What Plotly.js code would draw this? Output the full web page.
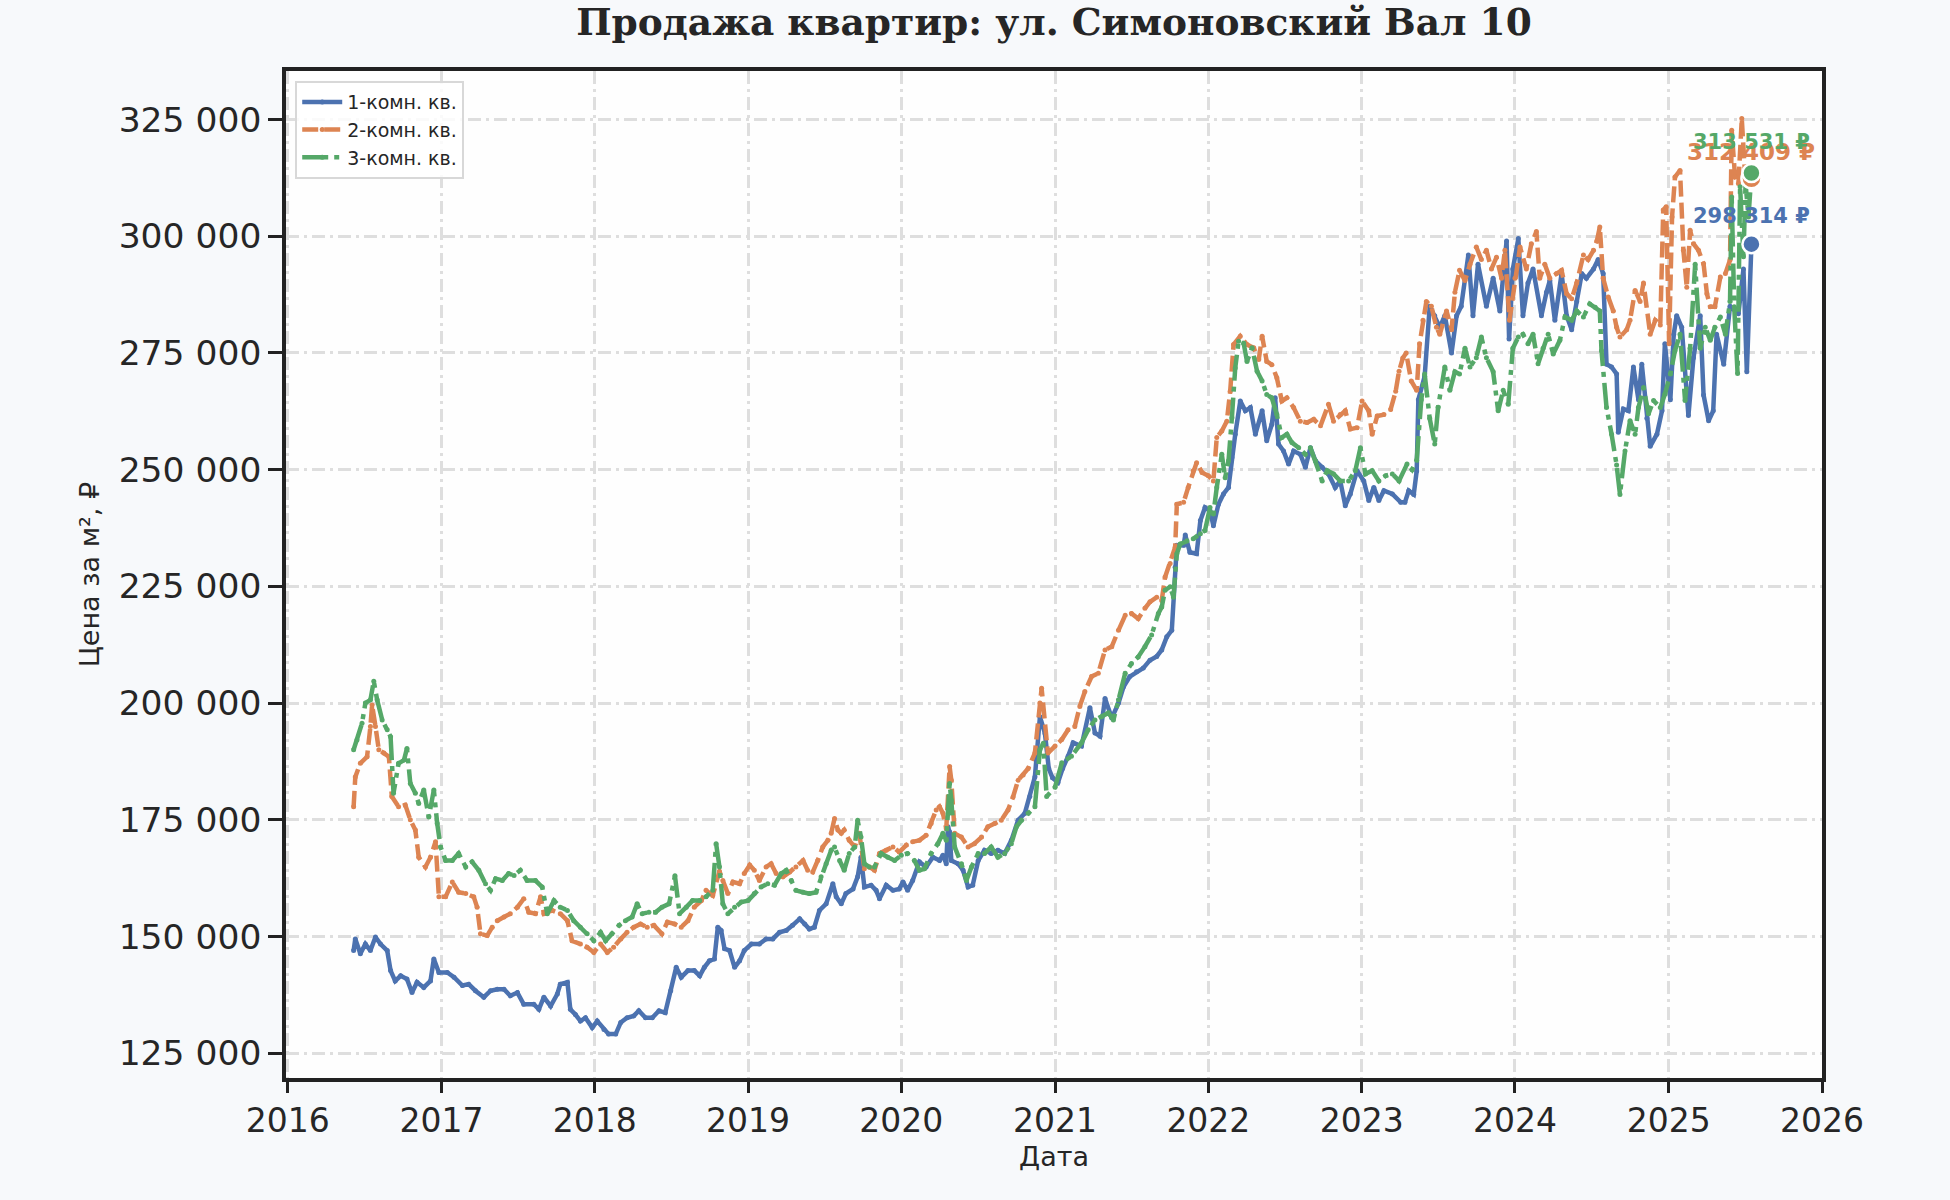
<!DOCTYPE html>
<html><head><meta charset="utf-8">
<script src="https://cdn.plot.ly/plotly-3.0.1.min.js"></script>
<style>html,body{margin:0;padding:0;background:#f7f9fb;}#chart{width:1950px;height:1200px;}</style>
</head><body><div id="chart"></div>
<script>
const titleText = 'Продажа квартир: ул. Симоновский Вал 10';
const seriesNames = ['1-комн. кв.', '2-комн. кв.', '3-комн. кв.'];

// 1-room: decimal years / price per m²
const t1 = [2016.43,2016.441,2016.474,2016.507,2016.539,2016.572,2016.604,2016.648,2016.670,2016.702,2016.735,2016.778,2016.811,2016.843,2016.887,2016.930,2016.952,2016.985,2017.039,2017.083,2017.137,2017.180,2017.224,2017.278,2017.322,2017.365,2017.409,2017.452,2017.496,2017.539,2017.604,2017.637,2017.670,2017.713,2017.757,2017.778,2017.822,2017.843,2017.876,2017.909,2017.941,2017.985,2018.017,2018.061,2018.093,2018.137,2018.170,2018.213,2018.257,2018.289,2018.333,2018.376,2018.420,2018.463,2018.496,2018.533,2018.565,2018.609,2018.652,2018.685,2018.717,2018.750,2018.783,2018.804,2018.826,2018.848,2018.880,2018.913,2018.946,2018.978,2019.022,2019.076,2019.120,2019.163,2019.207,2019.250,2019.293,2019.337,2019.370,2019.402,2019.435,2019.467,2019.511,2019.554,2019.576,2019.609,2019.641,2019.685,2019.717,2019.739,2019.761,2019.804,2019.837,2019.859,2019.902,2019.946,2019.989,2020.011,2020.043,2020.076,2020.120,2020.163,2020.207,2020.250,2020.272,2020.293,2020.304,2020.315,2020.326,2020.370,2020.402,2020.435,2020.467,2020.500,2020.543,2020.587,2020.630,2020.674,2020.717,2020.761,2020.804,2020.837,2020.870,2020.902,2020.935,2020.960,2020.985,2021.020,2021.050,2021.087,2021.120,2021.174,2021.229,2021.261,2021.294,2021.327,2021.370,2021.414,2021.447,2021.490,2021.534,2021.577,2021.621,2021.664,2021.697,2021.730,2021.763,2021.784,2021.795,2021.839,2021.850,2021.882,2021.926,2021.948,2021.980,2022.013,2022.035,2022.068,2022.100,2022.133,2022.155,2022.176,2022.209,2022.242,2022.275,2022.307,2022.351,2022.383,2022.416,2022.438,2022.460,2022.492,2022.525,2022.558,2022.601,2022.634,2022.667,2022.699,2022.743,2022.786,2022.830,2022.863,2022.895,2022.928,2022.972,2023.015,2023.048,2023.081,2023.113,2023.146,2023.200,2023.255,2023.283,2023.309,2023.340,2023.359,2023.370,2023.413,2023.446,2023.478,2023.511,2023.543,2023.587,2023.620,2023.652,2023.696,2023.728,2023.761,2023.815,2023.859,2023.902,2023.946,2023.963,2023.989,2024.022,2024.054,2024.087,2024.120,2024.174,2024.207,2024.228,2024.261,2024.304,2024.337,2024.370,2024.402,2024.435,2024.467,2024.511,2024.543,2024.576,2024.598,2024.630,2024.663,2024.674,2024.707,2024.739,2024.772,2024.804,2024.826,2024.859,2024.880,2024.924,2024.957,2024.978,2025.011,2025.033,2025.054,2025.087,2025.130,2025.163,2025.207,2025.228,2025.261,2025.293,2025.315,2025.359,2025.402,2025.457,2025.489,2025.511,2025.540];
const v1 = [147000,149500,146300,148400,147000,149900,148400,147000,142700,140500,141600,140900,138000,140200,139100,140500,145200,142300,142300,141300,139500,139800,138400,137000,138400,138700,138700,137300,138000,135500,135500,134400,137000,135100,137700,139800,140200,134400,133300,131900,132600,130500,131900,130100,129100,129100,131600,132600,133000,134100,132600,132600,134100,133700,138400,143400,141300,142700,142700,141600,143400,144800,145200,152000,151300,147400,147000,143400,144800,147000,148400,148400,149500,149500,150900,151300,152400,153800,152700,151600,152000,155600,157000,161300,158500,157000,159200,160200,162800,167000,160600,161000,159900,158100,161000,159900,160200,161700,159900,162000,166000,164900,167000,166300,167400,165600,173500,172400,166300,165600,164200,160600,161000,166300,168500,167800,168500,167800,170600,174900,176400,180000,184200,197100,193500,186000,184000,183000,186000,188600,191500,190800,199000,193600,192900,201000,196800,200000,203500,205700,206700,207500,209200,210000,211400,214200,215600,229100,233800,233800,236000,232300,232000,239100,241900,241200,238000,242600,244800,246200,252600,257600,264700,262600,263300,257600,262600,256200,259700,265400,255500,254000,251200,254000,253300,250500,254700,251900,250500,249100,246200,247600,242300,244800,249800,247600,243400,246200,243400,245500,244800,243000,243000,245500,244700,249700,265000,270000,285000,283000,280500,283000,275000,283000,285000,296000,283000,294000,285000,291000,284000,299000,278000,293000,299500,283000,290000,293000,283000,288000,290500,282000,292000,283000,280000,286000,292000,291000,293000,295000,292000,272600,272000,270500,258000,263000,262600,272000,265000,272600,261000,255000,257600,262600,277000,265000,279000,283000,280500,261600,274000,283000,266000,260500,262600,279000,272600,285000,283400,293000,271000,298314];

// 2-room
const t2 = [2016.43,2016.441,2016.474,2016.517,2016.539,2016.550,2016.572,2016.593,2016.626,2016.659,2016.680,2016.724,2016.767,2016.800,2016.833,2016.854,2016.898,2016.930,2016.963,2016.985,2017.028,2017.072,2017.115,2017.159,2017.213,2017.235,2017.257,2017.300,2017.333,2017.365,2017.409,2017.452,2017.496,2017.539,2017.572,2017.615,2017.648,2017.670,2017.724,2017.778,2017.822,2017.854,2017.909,2017.952,2017.996,2018.039,2018.083,2018.126,2018.170,2018.213,2018.257,2018.300,2018.343,2018.387,2018.441,2018.474,2018.522,2018.565,2018.609,2018.652,2018.696,2018.728,2018.772,2018.815,2018.837,2018.870,2018.902,2018.946,2018.978,2019.011,2019.043,2019.076,2019.120,2019.152,2019.185,2019.228,2019.272,2019.315,2019.359,2019.391,2019.424,2019.457,2019.489,2019.522,2019.543,2019.565,2019.587,2019.609,2019.630,2019.663,2019.696,2019.728,2019.761,2019.793,2019.826,2019.859,2019.902,2019.946,2019.989,2020.033,2020.076,2020.120,2020.163,2020.196,2020.228,2020.250,2020.272,2020.293,2020.315,2020.326,2020.348,2020.391,2020.435,2020.478,2020.522,2020.565,2020.609,2020.652,2020.696,2020.728,2020.761,2020.793,2020.826,2020.870,2020.902,2020.913,2020.956,2021.000,2021.044,2021.087,2021.131,2021.163,2021.196,2021.240,2021.283,2021.327,2021.370,2021.414,2021.458,2021.501,2021.545,2021.588,2021.621,2021.664,2021.697,2021.719,2021.752,2021.784,2021.795,2021.839,2021.871,2021.904,2021.926,2021.959,2022.002,2022.035,2022.057,2022.089,2022.122,2022.144,2022.166,2022.209,2022.253,2022.296,2022.329,2022.351,2022.383,2022.416,2022.449,2022.481,2022.514,2022.558,2022.601,2022.645,2022.688,2022.732,2022.786,2022.819,2022.863,2022.895,2022.928,2022.972,2023.004,2023.048,2023.070,2023.102,2023.146,2023.190,2023.222,2023.244,2023.270,2023.293,2023.326,2023.359,2023.380,2023.402,2023.424,2023.457,2023.489,2023.511,2023.554,2023.587,2023.609,2023.641,2023.674,2023.707,2023.750,2023.783,2023.815,2023.848,2023.880,2023.913,2023.935,2023.967,2024.000,2024.033,2024.076,2024.109,2024.141,2024.163,2024.196,2024.228,2024.272,2024.304,2024.337,2024.370,2024.402,2024.446,2024.478,2024.511,2024.533,2024.554,2024.576,2024.609,2024.641,2024.663,2024.685,2024.728,2024.750,2024.783,2024.815,2024.837,2024.880,2024.913,2024.946,2024.967,2024.985,2025.003,2025.022,2025.043,2025.076,2025.098,2025.120,2025.141,2025.163,2025.196,2025.228,2025.250,2025.272,2025.304,2025.337,2025.370,2025.402,2025.413,2025.435,2025.457,2025.478,2025.500,2025.522,2025.540];
const v2 = [177800,184200,187100,188500,195000,199600,195000,190000,189300,188500,180000,177800,178200,175000,172800,167000,164900,167000,170300,158500,158500,161700,159500,159200,158500,156300,150600,150200,152000,153400,154200,154900,156300,158100,155200,154900,158500,154900,155600,154900,153400,149100,148400,147700,146600,148400,146600,147700,149500,150900,152000,152700,152000,152400,150600,153100,152700,152000,153400,156300,157700,159900,158800,164000,162000,159200,161700,161300,163500,165300,164200,162000,164900,165600,163500,162800,163800,164900,166300,164200,163800,166300,169200,170600,172100,175300,172800,172100,172800,170600,169200,172100,164500,164900,164200,167800,168500,169200,168100,169600,170300,170600,171700,174200,177100,177800,176400,173100,186400,183500,172100,171300,169200,169900,171300,173500,174200,174900,177100,179900,183500,184600,186000,189300,200000,203200,189300,190800,192200,194300,195000,199300,202500,205700,206400,211400,212100,215600,218800,219200,218100,220300,221700,222700,222000,227000,229900,233400,242600,243000,246200,249800,251500,249400,248700,247600,256900,258300,260400,266800,276800,278600,276800,276100,273600,278600,273200,272500,269700,264700,265400,263300,260400,260100,260800,259400,264000,260400,261800,262600,258700,259000,264700,262600,257600,261500,261800,262900,266800,271100,273900,275000,269000,267000,277000,282000,286000,285000,280500,279000,284000,280000,288000,292700,290500,294000,297700,295000,297000,293000,295500,291000,297000,282000,291000,297700,293000,298400,301000,291000,294000,291000,292000,292700,287700,286600,290000,296000,295000,297000,299000,302000,291000,287000,284000,280500,278400,280000,282000,288400,286000,290000,279000,282000,281000,305600,306300,277000,304100,312700,314100,297000,289100,301300,298400,297000,294100,287700,284900,284900,291300,292000,294900,322700,312700,311300,325200,312700,312400,312409];

// 3-room
const t3 = [2016.43,2016.452,2016.485,2016.507,2016.539,2016.561,2016.583,2016.615,2016.648,2016.670,2016.691,2016.724,2016.757,2016.778,2016.800,2016.833,2016.854,2016.887,2016.920,2016.952,2016.974,2016.996,2017.028,2017.072,2017.115,2017.159,2017.202,2017.246,2017.289,2017.322,2017.354,2017.398,2017.441,2017.474,2017.517,2017.561,2017.615,2017.659,2017.691,2017.735,2017.778,2017.822,2017.865,2017.909,2017.952,2017.996,2018.039,2018.072,2018.115,2018.159,2018.202,2018.246,2018.278,2018.311,2018.354,2018.398,2018.441,2018.485,2018.525,2018.554,2018.598,2018.641,2018.685,2018.728,2018.772,2018.793,2018.815,2018.837,2018.870,2018.913,2018.957,2019.000,2019.043,2019.087,2019.130,2019.174,2019.217,2019.250,2019.283,2019.315,2019.359,2019.402,2019.446,2019.478,2019.511,2019.543,2019.565,2019.598,2019.630,2019.663,2019.696,2019.717,2019.739,2019.761,2019.793,2019.826,2019.870,2019.913,2019.957,2020.000,2020.043,2020.087,2020.120,2020.152,2020.196,2020.239,2020.272,2020.293,2020.315,2020.326,2020.348,2020.391,2020.424,2020.457,2020.500,2020.543,2020.587,2020.630,2020.674,2020.717,2020.750,2020.783,2020.826,2020.870,2020.902,2020.924,2020.946,2021.000,2021.044,2021.109,2021.174,2021.218,2021.261,2021.305,2021.349,2021.381,2021.414,2021.458,2021.501,2021.545,2021.588,2021.632,2021.675,2021.697,2021.719,2021.752,2021.773,2021.795,2021.817,2021.861,2021.904,2021.948,2021.980,2022.013,2022.035,2022.057,2022.089,2022.111,2022.133,2022.155,2022.176,2022.198,2022.231,2022.253,2022.285,2022.318,2022.351,2022.383,2022.416,2022.449,2022.481,2022.514,2022.547,2022.590,2022.634,2022.667,2022.699,2022.743,2022.776,2022.819,2022.863,2022.917,2022.961,2022.993,2023.026,2023.070,2023.113,2023.157,2023.200,2023.244,2023.298,2023.330,2023.359,2023.391,2023.413,2023.446,2023.478,2023.500,2023.543,2023.576,2023.609,2023.641,2023.674,2023.707,2023.750,2023.783,2023.815,2023.859,2023.891,2023.924,2023.957,2023.989,2024.022,2024.054,2024.087,2024.120,2024.152,2024.185,2024.217,2024.250,2024.293,2024.326,2024.370,2024.402,2024.446,2024.489,2024.522,2024.554,2024.565,2024.598,2024.630,2024.663,2024.685,2024.717,2024.750,2024.783,2024.804,2024.837,2024.870,2024.902,2024.946,2024.978,2025.011,2025.043,2025.076,2025.109,2025.141,2025.174,2025.207,2025.239,2025.272,2025.304,2025.337,2025.370,2025.402,2025.413,2025.430,2025.450,2025.467,2025.489,2025.504,2025.522,2025.540];
const v3 = [190000,192100,195700,200000,200700,204700,200700,196400,194300,192800,180700,187100,187800,190300,182800,180700,178500,181400,175600,181400,174200,169200,166300,166300,167800,164900,166000,164200,161300,159900,162400,162000,163500,163100,164200,162000,162000,160600,154900,157700,156300,155600,153400,152000,150600,149100,150900,149100,150600,152400,153400,154200,157000,154900,155200,155200,156300,157000,163000,154900,156300,157700,157700,158500,159900,169900,164900,157000,154900,156300,157400,157700,159200,160600,161300,161000,163500,164200,162000,159900,159500,159200,159500,162800,165600,168500,169200,166300,164200,167800,169200,174900,171300,165600,164900,164900,167800,167000,166300,167400,167800,166300,164200,164500,167800,169900,172100,170600,182800,179200,169200,165600,162000,164900,167800,167800,169200,167000,167800,169900,173500,174900,176400,177800,190000,191400,180000,182000,187200,188600,191500,194300,196400,197100,197900,196400,200700,206400,208500,209900,212100,214600,219200,220600,224200,224900,222700,232000,234100,234800,235200,236300,237000,241900,240500,246200,253300,248300,251900,261100,271800,277500,277100,273200,276100,271100,269000,266100,265400,261800,256900,257600,255800,254700,253300,254700,251900,247600,249800,249100,247600,247600,249800,254700,249100,249800,247600,248700,249100,247600,251200,250000,252000,265000,270500,261000,255500,263400,272000,267000,271000,270500,276000,272000,274000,278400,274000,271000,262600,267000,264000,276000,278400,279000,277000,279000,272700,276000,279000,274800,277700,282700,282000,284000,282700,285500,284800,284000,275500,263300,257600,251000,244700,254000,260500,257600,263300,267600,262000,264800,263300,266200,270500,275500,279000,264800,276000,294000,276000,280500,277700,280500,282700,279000,286000,308400,284900,270600,310600,295600,311300,304100,313531];

const colors = ['#4c72b0', '#dd8452', '#55a868'];
const dashes = ['solid', '16px,6px', '26px,6px,5px,6px'];

function toDate(y) {
  const yr = Math.floor(y);
  const start = Date.UTC(yr, 0, 1), end = Date.UTC(yr + 1, 0, 1);
  return new Date(start + (y - yr) * (end - start)).toISOString().slice(0, 10);
}
function fmt(v) {
  return String(Math.round(v)).replace(/\B(?=(\d{3})+(?!\d))/g, ' ');
}

const ts = [t1, t2, t3], vs = [v1, v2, v3];
const traces = [];
ts.forEach((t, i) => {
  traces.push({
    x: t.map(toDate), y: vs[i], name: seriesNames[i], type: 'scatter', mode: 'lines+markers',
    line: {color: colors[i], width: 4.5, dash: dashes[i]},
    marker: {color: colors[i], size: 5}
  });
});
// last-point markers (orange under green)
const lastSizes = [18, 20, 18];
[1, 2, 0].forEach(i => {
  const t = ts[i], v = vs[i];
  traces.push({
    x: [toDate(t[t.length - 1])], y: [v[v.length - 1]], type: 'scatter', mode: 'markers',
    showlegend: false, hoverinfo: 'skip',
    marker: {color: colors[i], size: lastSizes[i], line: {color: 'white', width: 2.5}}
  });
});

const annYShift = [14, 11, 17];
const annSize = [21, 23, 21];
const annotations = ts.map((t, i) => ({
  x: toDate(t[t.length - 1]), y: vs[i][vs[i].length - 1], xref: 'x', yref: 'y',
  text: '<b>' + fmt(vs[i][vs[i].length - 1]) + ' ₽</b>', showarrow: false,
  yshift: annYShift[i], xanchor: 'center', yanchor: 'bottom',
  font: {family: 'DejaVu Sans', size: annSize[i], color: colors[i]}
}));

const axisCommon = {
  showgrid: true, gridcolor: '#dedede', gridwidth: 2.5, griddash: '13px,5px,3px,5px',
  showline: true, linecolor: '#222222', linewidth: 3.5, mirror: true,
  ticks: 'outside', tickwidth: 3, tickcolor: '#222222',
  zeroline: false
};

const layout = {
  width: 1950, height: 1200,
  paper_bgcolor: '#f7f9fb', plot_bgcolor: '#fefefe',
  separators: ', ',
  margin: {l: 286, r: 128, t: 71, b: 122},
  title: {text: titleText, xref: 'paper', x: 0.5, xanchor: 'center', yref: 'container', y: 0.9817, yanchor: 'middle',
    font: {family: 'DejaVu Serif', size: 37.5, color: '#262626', weight: 'bold'}},
  xaxis: Object.assign({}, axisCommon, {
    type: 'date', range: ['2015-12-28', '2026-01-01'], dtick: 'M12', tick0: '2016-01-01', tickformat: '%Y',
    ticklen: 11, tickfont: {family: 'DejaVu Sans', size: 33, color: '#262626'},
    title: {text: 'Дата', font: {family: 'DejaVu Sans', size: 27, color: '#262626'}, standoff: 9}
  }),
  yaxis: Object.assign({}, axisCommon, {
    range: [119700, 335400], dtick: 25000, tickformat: ',d',
    ticklen: 14, tickfont: {family: 'DejaVu Sans', size: 34.5, color: '#262626'},
    title: {text: 'Цена за м², ₽', font: {family: 'DejaVu Sans', size: 27, color: '#262626'}, standoff: 12}
  }),
  legend: {x: 0.006, y: 0.99, xanchor: 'left', yanchor: 'top', bgcolor: 'rgba(255,255,255,0.85)',
    bordercolor: '#d8d8d8', borderwidth: 2, font: {family: 'DejaVu Sans', size: 19, color: '#262626'},
    itemwidth: 40, tracegroupgap: 0},
  annotations: annotations,
  showlegend: true
};
Plotly.newPlot('chart', traces, layout, {displayModeBar: false});
</script></body></html>
